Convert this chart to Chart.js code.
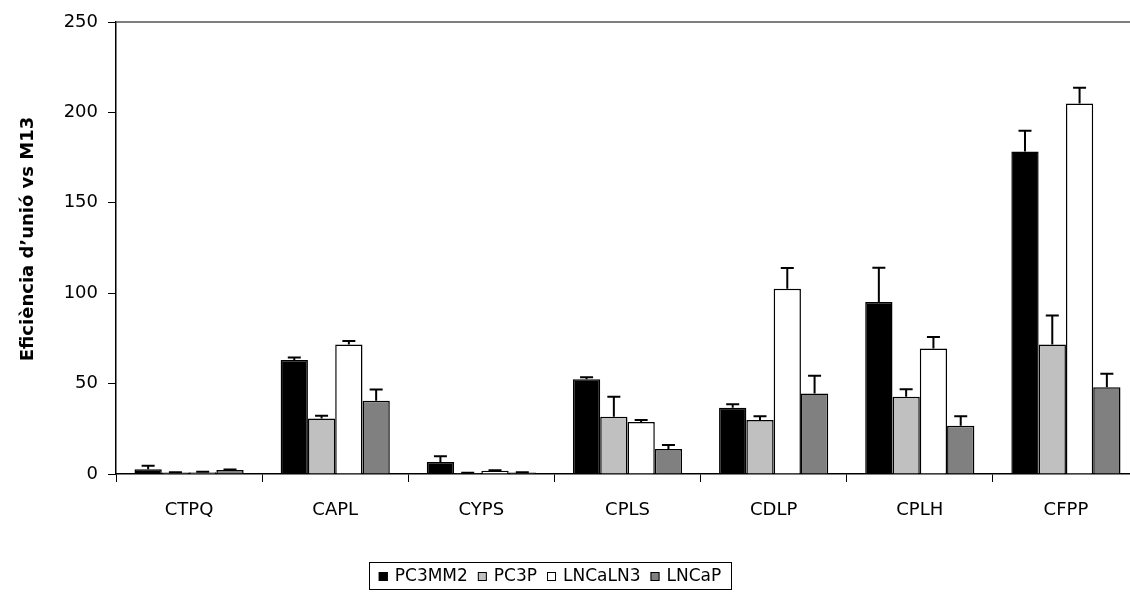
<!DOCTYPE html>
<html>
<head>
<meta charset="utf-8">
<script src="https://cdn.jsdelivr.net/npm/chart.js@4/dist/chart.umd.min.js"></script>
<style>
  html, body { margin: 0; padding: 0; background: #fff; overflow: hidden; }
  #wrap { width: 1130px; height: 592px; overflow: hidden; }
  canvas { display: block; }
</style>
</head>
<body>
<div id="wrap"><canvas id="c" width="1160" height="592"></canvas></div>
<script>
// Peptide constructs on the category axis
const categories = ['CTPQ', 'CAPL', 'CYPS', 'CPLS', 'CDLP', 'CPLH', 'CFPP'];

// Cell lines (series)
const seriesNames = ['PC3MM2', 'PC3P', 'LNCaLN3', 'LNCaP'];

// Binding efficiency vs M13, mean per construct
const pc3mm2  = [2.6, 63.0, 6.6, 52.4, 36.6, 95.1, 178.4];
const pc3p    = [0.8, 30.7, 0.5, 31.6, 29.8, 42.7, 71.6];
const lncaln3 = [1.0, 71.6, 1.8, 28.7, 102.5, 69.4, 204.9];
const lncap   = [2.2, 40.5, 0.8, 13.8, 44.5, 26.7, 48.0];

// Upper error (standard deviation)
const pc3mm2Err  = [2.0, 1.4, 3.2, 1.1, 2.0, 19.0, 11.4];
const pc3pErr    = [0.2, 1.5, 0.2, 11.1, 2.2, 4.2, 16.0];
const lncaln3Err = [0.2, 2.0, 0.3, 1.1, 11.5, 6.4, 8.8];
const lncapErr   = [0.3, 6.2, 0.1, 2.2, 9.8, 5.3, 7.4];

// Y axis ticks
const yTicks = [0, 50, 100, 150, 200, 250];

const FONT = 'DejaVu Sans, Verdana, sans-serif';
const fills = ['#000000', '#c0c0c0', '#ffffff', '#808080'];
const values = [pc3mm2, pc3p, lncaln3, lncap];
const errors = [pc3mm2Err, pc3pErr, lncaln3Err, lncapErr];

const datasets = seriesNames.map((name, i) => ({
  label: name,
  data: values[i],
  errors: errors[i],
  backgroundColor: fills[i],
  borderColor: '#000',
  borderWidth: 1.5,
  borderSkipped: 'bottom',
  barPercentage: 1.0,
  categoryPercentage: 0.747
}));

// Upper error bars with caps
const errorBars = {
  id: 'errorBars',
  afterDatasetsDraw(chart) {
    const ctx = chart.ctx;
    const y = chart.scales.y;
    ctx.save();
    ctx.strokeStyle = '#000';
    ctx.lineWidth = 2;
    chart.data.datasets.forEach((ds, di) => {
      const meta = chart.getDatasetMeta(di);
      meta.data.forEach((bar, i) => {
        const v = ds.data[i], e = ds.errors[i];
        const y0 = y.getPixelForValue(v);
        const y1 = y.getPixelForValue(v + e);
        ctx.beginPath();
        ctx.moveTo(bar.x, y0);
        ctx.lineTo(bar.x, y1);
        ctx.moveTo(bar.x - 6.5, y1);
        ctx.lineTo(bar.x + 6.5, y1);
        ctx.stroke();
      });
    });
    ctx.restore();
  }
};

// Top frame line, rotated axis title and boxed legend
const decorations = {
  id: 'decorations',
  afterDraw(chart) {
    const ctx = chart.ctx;
    const a = chart.chartArea;
    ctx.save();
    ctx.strokeStyle = '#555';
    ctx.lineWidth = 1.5;
    ctx.beginPath();
    ctx.moveTo(a.left, a.top);
    ctx.lineTo(chart.width, a.top);
    ctx.stroke();

    // axis title
    ctx.fillStyle = '#000';
    ctx.font = 'bold 18px ' + FONT;
    ctx.textAlign = 'center';
    ctx.textBaseline = 'alphabetic';
    ctx.translate(33, 239);
    ctx.rotate(-Math.PI / 2);
    ctx.fillText('Eficiència d\u2019unió vs M13', 0, 0);
    ctx.restore();

    // legend
    ctx.save();
    ctx.font = '17px ' + FONT;
    const sq = 9, gap = 7, itemGap = 10, pad = 10;
    const widths = chart.data.datasets.map(d => ctx.measureText(d.label).width);
    let total = pad * 2;
    widths.forEach((w, i) => { total += sq + gap + w + (i < widths.length - 1 ? itemGap : 0); });
    const cx = 550, top = 562, h = 27;
    let x = cx - total / 2;
    ctx.strokeStyle = '#000';
    ctx.lineWidth = 1;
    ctx.strokeRect(Math.round(x) + 0.5, top + 0.5, Math.round(total), h);
    x += pad;
    const my = top + h / 2 + 1;
    ctx.textBaseline = 'middle';
    ctx.textAlign = 'left';
    chart.data.datasets.forEach((d, i) => {
      ctx.fillStyle = d.backgroundColor;
      ctx.fillRect(x, my - sq / 2, sq, sq);
      ctx.strokeRect(x + 0.5, my - sq / 2 + 0.5, sq - 1, sq - 1);
      x += sq + gap;
      ctx.fillStyle = '#000';
      ctx.fillText(d.label, x, my);
      x += widths[i] + itemGap;
    });
    ctx.restore();
  }
};

new Chart(document.getElementById('c'), {
  type: 'bar',
  data: { labels: categories, datasets },
  options: {
    responsive: false,
    animation: false,
    devicePixelRatio: 1,
    layout: { padding: { top: 22, right: 21, left: 0, bottom: 0 } },
    plugins: { legend: { display: false }, tooltip: { enabled: false } },
    scales: {
      x: {
        grid: { display: true, drawOnChartArea: false, drawTicks: true, tickLength: 8, color: '#000', offset: true },
        border: { display: true, color: '#000', width: 1.5 },
        ticks: { color: '#000', font: { family: FONT, size: 18 }, padding: 18, maxRotation: 0 },
        afterFit(s) { s.height = 592 - 474; }
      },
      y: {
        min: 0, max: 250,
        afterBuildTicks(s) { s.ticks = yTicks.map(v => ({ value: v })); },
        grid: { display: true, drawOnChartArea: false, drawTicks: true, tickLength: 8, color: '#000' },
        border: { display: true, color: '#000', width: 1.5 },
        ticks: { color: '#000', font: { family: FONT, size: 18 }, padding: 10 },
        afterFit(s) { s.width = 116; }
      }
    }
  },
  plugins: [errorBars, decorations]
});
</script>
</body>
</html>
